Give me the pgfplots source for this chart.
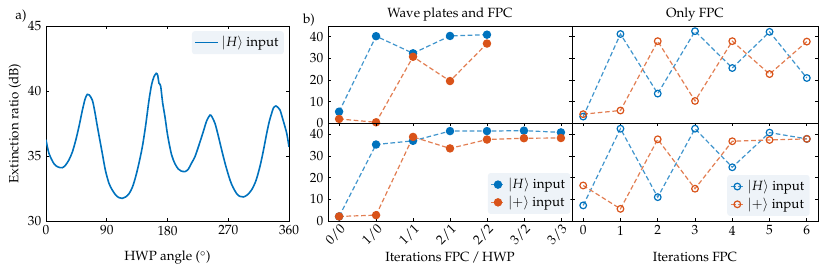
\documentclass[border=0pt]{standalone}
\usepackage[T1]{fontenc}
\usepackage{mathpazo}
\usepackage{pgfplots}
\pgfplotsset{compat=1.18}
\definecolor{cb}{RGB}{0,114,189}
\definecolor{co}{RGB}{217,83,25}
\definecolor{legbg}{RGB}{238,243,248}
\pgfplotsset{
  every axis/.append style={scale only axis, axis line style={line width=0.6pt},
    tick align=inside, major tick length=2pt, tick style={line width=0.5pt, black}},
  leg/.style={legend style={fill=legbg, draw=none, rounded corners=2pt, legend cell align=left, inner sep=2pt}},
  shortleg/.style={legend image code/.code={\draw[mark repeat=2,mark phase=2] plot coordinates {(0cm,0cm) (0.18cm,0cm) (0.36cm,0cm)};}},
  fb/.style={color=cb!75!white, line width=0.9pt, dash pattern=on 3.5pt off 2pt, mark=*, mark size=2.7pt, mark options={solid, draw=cb, fill=cb}},
  fo/.style={color=co!75!white, line width=0.9pt, dash pattern=on 3.5pt off 2pt, mark=*, mark size=2.7pt, mark options={solid, draw=co, fill=co}},
  ob/.style={color=cb!75!white, line width=0.9pt, dash pattern=on 3.5pt off 2pt, mark=o, mark size=2.5pt, mark options={solid, draw=cb, fill=white, line width=0.9pt}},
  oo/.style={color=co!75!white, line width=0.9pt, dash pattern=on 3.5pt off 2pt, mark=o, mark size=2.5pt, mark options={solid, draw=co, fill=white, line width=0.9pt}},
  pb/.style={xmin=-0.3, xmax=6.3, ymin=0, ymax=45, clip=false, ytick={0,10,20,30,40}},
}
\begin{document}
\begin{tikzpicture}
\path[use as bounding box] (0,0) rectangle (622.5pt,-207.75pt);
% panel a
\begin{axis}[at={(34.5pt,-165.75pt)}, anchor=south west, width=182.25pt, height=146.25pt,
  xmin=0, xmax=360, ymin=30, ymax=45, xtick={0,90,180,270,360}, ytick={30,35,40,45},
  xlabel={HWP angle ($^\circ$)}, ylabel={Extinction ratio (dB)},
  xlabel style={at={(axis description cs:0.5,-0.19)}, anchor=center},
  ylabel style={at={(axis description cs:-0.128,0.5)}, anchor=center},
  leg, legend style={at={(axis description cs:0.98,0.975)}, anchor=north east}]
\addplot[color=cb, line width=1.2pt, smooth] coordinates {
(0,36.25)(4.4,35.2)(11.9,34.4)(18,34.15)(24.2,34.1)(29,34.3)(34,34.7)(39,35.3)(44,36.2)
(49,37.3)(53.8,38.5)(58,39.4)(61.2,39.74)(64,39.7)(68.6,39.3)(72,38.5)(76,37.3)(83.4,35.2)
(88,33.9)(93.3,32.9)(98,32.4)(103.2,32.0)(108,31.8)(113,31.74)(118,31.85)(123,32.1)(128,32.6)
(132.8,33.4)(137.5,34.4)(142.7,35.7)(147.5,37.3)(152.6,39.3)(156.5,40.5)(160,41.1)(163.4,41.36)
(165.5,41.2)(167.4,40.6)(169.8,40.4)(172.8,39.1)(176.3,38.0)(179,37.0)(181.2,36.3)(186,35.1)
(191.1,34.4)(196,34.0)(200,33.85)(205.9,33.8)(211,34.0)(215,34.4)(220.7,34.95)(227,35.9)
(233,36.87)(238,37.7)(243,38.15)(246,38.0)(250.4,37.5)(255,36.6)(260.3,35.46)(266,34.3)
(272.6,33.15)(277,32.6)(282.5,32.1)(287,31.9)(292.3,31.85)(298,32.0)(304.7,32.4)(311,33.1)
(317,34.2)(322,35.4)(327,36.75)(331,37.7)(334.4,38.3)(337,38.7)(340.7,38.85)(343.5,38.75)
(346.7,38.54)(351,37.8)(356.6,36.75)(360,35.7)};
\addlegendentry{$|H\rangle$ input}
\end{axis}
% top-left
\begin{axis}[at={(246pt,-92.625pt)}, anchor=south west, width=183pt, height=73.125pt,
  pb, xtick=\empty]
\addplot[fb] coordinates {(0,5.45)(1,40.3)(2,32.4)(3,40.4)(4,41.0)};
\addplot[fo] coordinates {(0,2.1)(1,0.55)(2,30.8)(3,19.6)(4,36.9)};
\end{axis}
% bottom-left
\begin{axis}[at={(246pt,-165.75pt)}, anchor=south west, width=183pt, height=73.125pt,
  pb, xtick={0,...,6}, xticklabels={0/0,1/0,1/1,2/1,2/2,3/2,3/3},
  xticklabel style={rotate=45, anchor=north east, inner sep=1pt},
  xlabel={Iterations FPC\,/\,HWP},
  xlabel style={at={(axis description cs:0.5,-0.369)}, anchor=center},
  leg, shortleg, legend style={at={(axis description cs:0.994,0.07)}, anchor=south east}]
\addplot[fb] coordinates {(0,2.1)(1,35.3)(2,37.0)(3,41.5)(4,41.5)(5,41.7)(6,40.9)};
\addlegendentry{$|H\rangle$ input}
\addplot[fo] coordinates {(0,2.1)(1,2.7)(2,38.8)(3,33.5)(4,37.6)(5,38.2)(6,38.3)};
\addlegendentry{$|{+}\rangle$ input}
\end{axis}
% top-right
\begin{axis}[at={(429pt,-92.625pt)}, anchor=south west, width=184.5pt, height=73.125pt,
  pb, xtick=\empty, ytick pos=both, yticklabels={}]
\addplot[ob] coordinates {(0,3.2)(1,41.3)(2,13.8)(3,42.6)(4,25.6)(5,42.3)(6,21.0)};
\addplot[oo] coordinates {(0,4.3)(1,6.0)(2,38.0)(3,10.4)(4,38.0)(5,22.8)(6,37.8)};
\end{axis}
% bottom-right
\begin{axis}[at={(429pt,-165.75pt)}, anchor=south west, width=184.5pt, height=73.125pt,
  pb, xtick={0,...,6}, ytick pos=both, yticklabels={},
  xlabel={Iterations FPC},
  xlabel style={at={(axis description cs:0.5,-0.369)}, anchor=center},
  leg, shortleg, legend style={at={(axis description cs:0.967,0.05)}, anchor=south east}]
\addplot[ob] coordinates {(0,7.2)(1,42.6)(2,11.0)(3,42.6)(4,24.8)(5,40.8)(6,37.9)};
\addlegendentry{$|H\rangle$ input}
\addplot[oo] coordinates {(0,16.4)(1,5.6)(2,37.7)(3,14.9)(4,36.8)(5,37.4)(6,37.9)};
\addlegendentry{$|{+}\rangle$ input}
\end{axis}
\node at (15.75pt,-12.375pt) {a)};
\node at (231.75pt,-15pt) {b)};
\node at (337.5pt,-11.25pt) {Wave plates and FPC};
\node at (521.25pt,-11.25pt) {Only FPC};
\end{tikzpicture}
\end{document}
